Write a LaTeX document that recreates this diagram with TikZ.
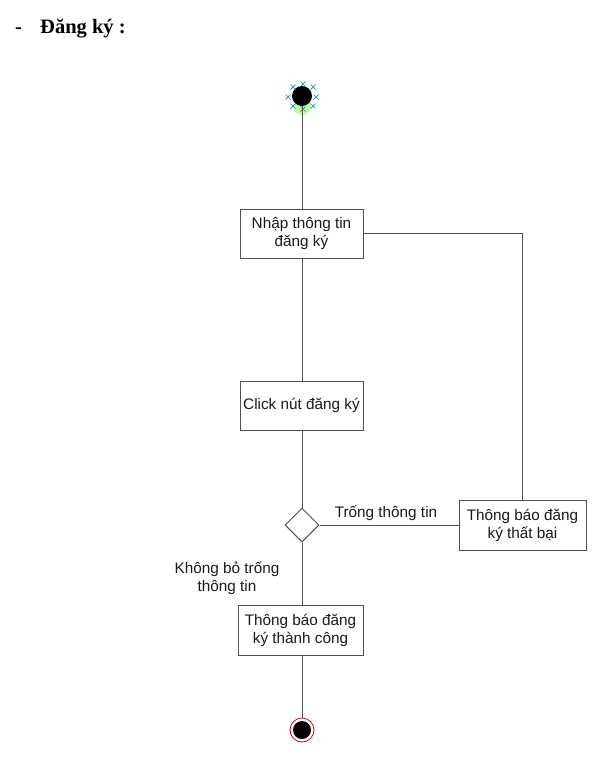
\documentclass[tikz,border=0pt]{standalone}
\usepackage{fontspec}
\setmainfont{Liberation Sans}
\newfontfamily\titlefont{Liberation Serif}
\usetikzlibrary{shapes.geometric}
\definecolor{linec}{HTML}{505050}
\definecolor{txtc}{HTML}{1A1A1A}
\tikzset{
  actbox/.style={draw=linec, line width=1pt, fill=white, align=center, text=txtc,
    font=\fontsize{15.3}{18}\selectfont, inner sep=0pt},
  conn/.style={draw=linec, line width=1pt},
  lbl/.style={text=txtc, font=\fontsize{15.3}{18}\selectfont, align=center, inner sep=0pt},
  selx/.style={draw=cyan!70!blue, line width=0.7pt},
  ttl/.style={anchor=base west, inner sep=0pt, font=\titlefont\bfseries\fontsize{20.5}{24}\selectfont},
}
\begin{document}
\begin{tikzpicture}[x=1pt,y=-1pt]
\useasboundingbox (0,0) rectangle (613,761);
% title
\node[ttl] (dash) at (15,33) {-};
\node[ttl] (title) at (40,33) {Đăng ký :};

% start node
\fill[green!60!lime, opacity=0.35] (302,106) circle (9);
\node[circle, fill=black, minimum size=20pt, inner sep=0pt] (start) at (302,96) {};
\foreach \p in {(303,84),(293,87),(313,87),(288,97),(316,97),(293,106),(313,106),(303,109)}{
  \draw[selx] \p ++(-2.5,-2.5) -- ++(5,5) \p ++(-2.5,2.5) -- ++(5,-5);
}

% activities
\node[actbox, minimum width=123pt, minimum height=49pt] (b1) at (301.5,233.5) {Nhập thông tin\\đăng ký};
\node[actbox, minimum width=123pt, minimum height=49pt] (b2) at (301.5,405.5) {Click nút đăng ký};
\node[diamond, draw=linec, line width=1pt, fill=white, minimum width=34pt, minimum height=34pt, inner sep=0pt] (d) at (302,525) {};
\node[actbox, minimum width=127pt, minimum height=50pt] (b3) at (522.5,525) {Thông báo đăng\\ký thất bại};
\node[actbox, minimum width=125pt, minimum height=50pt] (b4) at (300.5,630) {Thông báo đăng\\ký thành công};

% end node
\node[circle, draw=red!85!black, line width=0.8pt, fill=white, minimum size=24pt, inner sep=0pt] (end) at (302,730) {};
\fill[black] (end.center) circle (9);

% connectors
\draw[conn] (start.south) -- (start.south |- b1.north);
\draw[conn] (start.south |- b1.south) -- (start.south |- b2.north);
\draw[conn] (b1.east) -| (b3.north);
\draw[conn] (start.south |- b2.south) -- (d.north);
\draw[conn] (d.east) -- (b3.west);
\draw[conn] (d.south) -- (d.south |- b4.north);
\draw[conn] (d.south |- b4.south) -- (end.north);

% labels
\node[lbl] (l1) at (386,513) {Trống thông tin};
\node[lbl] (l2) at (227,578) {Không bỏ trống\\thông tin};
\end{tikzpicture}
\end{document}
